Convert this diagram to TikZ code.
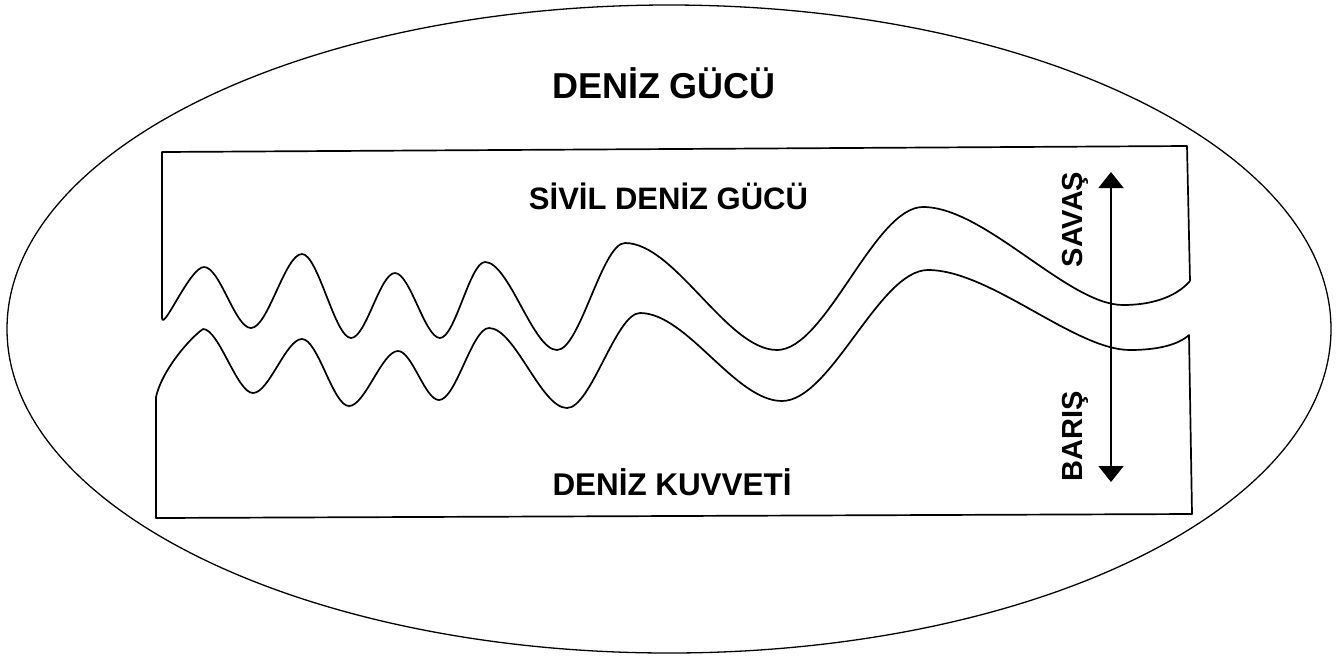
\documentclass[tikz,border=0pt]{standalone}
\usepackage{fontspec}
\setmainfont{Liberation Sans}
\usetikzlibrary{arrows.meta}

\begin{document}
\begin{tikzpicture}[
    x=1pt,
    y=-1pt,
    outline/.style={line width=1.7pt, line join=round},
    heading/.style={font=\bfseries\fontsize{#1}{#1}\selectfont, anchor=base, inner sep=0pt},
    bothways/.style={{Triangle[width=25pt, length=16pt]}-{Triangle[width=25pt, length=16pt]}, line width=1.8pt},
  ]
  \useasboundingbox (0,0) rectangle (1338,657);

  % === Outer ellipse ===
  \draw[line width=1.3pt] (669,329) ellipse [x radius=662, y radius=324];

  % === Upper box (civil), wavy lower edge ===
  \draw[outline] (1190,281) -- (1187,146) -- (162,152) -- (162,318)
    .. controls (163,332) and (190,267) .. (204,267)
    .. controls +(16,0) and +(-16,0) .. (251,328)
    .. controls +(17,0) and +(-17,0) .. (302,254)
    .. controls +(16,0) and +(-16,0) .. (351,338)
    .. controls +(15,0) and +(-15,0) .. (395,273)
    .. controls +(15,0) and +(-15,0) .. (440,338)
    .. controls +(15,0) and +(-15,0) .. (485,262)
    .. controls +(24,0) and +(-24,0) .. (557,350)
    .. controls +(23,0) and +(-23,0) .. (625,243)
    .. controls +(50,0) and +(-50,0) .. (777,350)
    .. controls +(49,0) and +(-49,0) .. (923,207)
    .. controls +(62,0) and +(-55,0) .. (1123,305)
    .. controls (1150,305) and (1175,298) .. (1190,281);

  % === Lower box (navy), wavy upper edge ===
  \draw[outline] (156,397)
    .. controls (162,370) and (190,338) .. (203,329)
    .. controls +(16,0) and +(-16,0) .. (253,393)
    .. controls +(16,0) and +(-16,0) .. (302,339)
    .. controls +(16,0) and +(-16,0) .. (349,406)
    .. controls +(16,0) and +(-16,0) .. (398,351)
    .. controls +(14,0) and +(-14,0) .. (439,400)
    .. controls +(17,0) and +(-17,0) .. (489,328)
    .. controls +(26,0) and +(-26,0) .. (567,408)
    .. controls +(24,0) and +(-24,0) .. (640,313)
    .. controls +(47,0) and +(-47,0) .. (782,401)
    .. controls +(49,0) and +(-49,0) .. (928,270)
    .. controls +(62,0) and +(-55,0) .. (1130,350)
    .. controls (1157,350) and (1178,345) .. (1189,335)
    -- (1192,514) -- (156,518) -- cycle;

  % === War / peace arrow ===
  \coordinate (warend) at (1111,172);
  \coordinate (peaceend) at (1111,482);
  \draw[bothways] (peaceend) -- (warend);

  % === Labels ===
  \node[heading=36] (title) at (664,98) {DENİZ GÜCÜ};
  \node[heading=31] (civil) at (668.5,209) {SİVİL DENİZ GÜCÜ};
  \node[heading=31.4] (navy) at (672,495) {DENİZ KUVVETİ};
  \node[heading=29, rotate=90] (war) at (1082,219.5) {SAVAŞ};
  \node[heading=29, rotate=90] (peace) at (1082,436.5) {BARIŞ};

\end{tikzpicture}
\end{document}
